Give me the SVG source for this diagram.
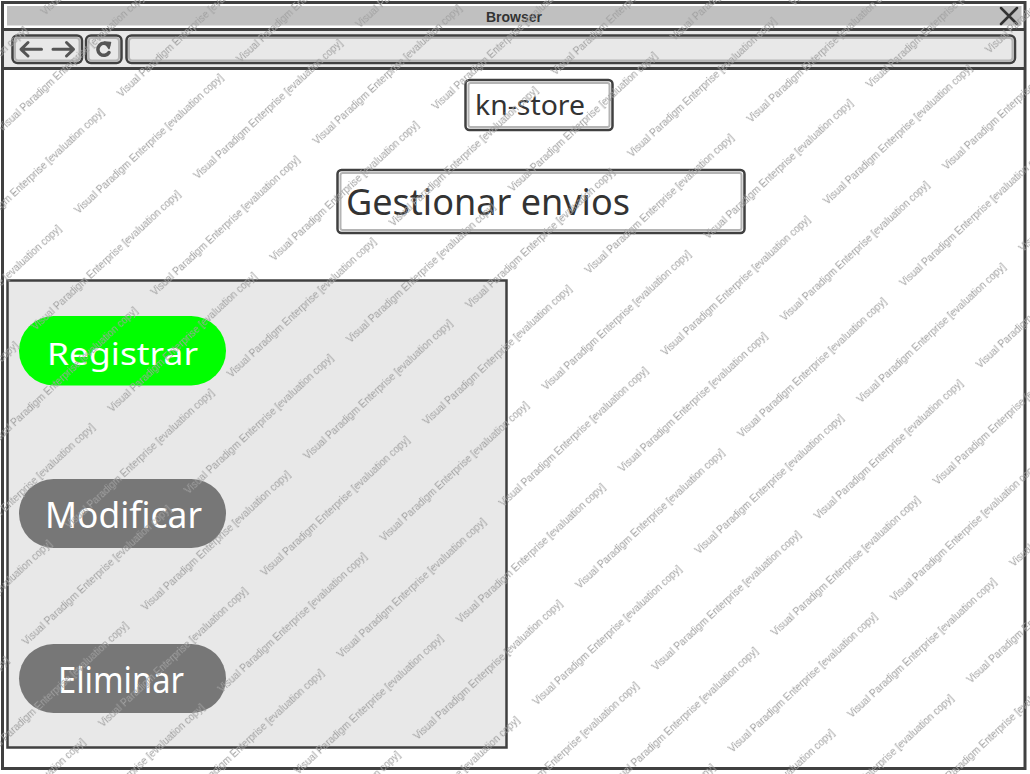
<svg xmlns="http://www.w3.org/2000/svg" width="1030" height="774" viewBox="0 0 1030 774">
  <style>
    .frame { fill: none; stroke: #404040; stroke-width: 3; }
    .dark { fill: none; stroke: #404040; stroke-width: 2.5; }
    .inner { fill: none; stroke: #b4b4b4; stroke-width: 2; }
    .icon { fill: none; stroke: #555555; stroke-width: 3; stroke-linecap: round; stroke-linejoin: round; }
    .title { font-family: "Liberation Sans", Arial, sans-serif; font-weight: bold; font-size: 14px; fill: #333333; }
    .label { font-family: "Comic Sans MS", "Noto Sans", "DejaVu Sans", sans-serif; fill: #333333; }
    .btntext { font-family: "Comic Sans MS", "Noto Sans", "DejaVu Sans", sans-serif; fill: #ffffff; }
    .wm { font-family: "Liberation Sans", Arial, sans-serif; font-size: 10px; fill: #a0a0a0; }
  </style>
  <defs>
    <pattern id="wmPattern" patternUnits="userSpaceOnUse" width="221.6" height="112" patternTransform="translate(728.1 423.4) rotate(-43)">
      <text class="wm" x="0" y="20">Visual Paradigm Enterprise [evaluation copy]</text>
      <text class="wm" x="110.8" y="76">Visual Paradigm Enterprise [evaluation copy]</text>
      <text class="wm" x="-110.8" y="76">Visual Paradigm Enterprise [evaluation copy]</text>
    </pattern>
  </defs>

  <rect x="0" y="0" width="1030" height="774" fill="#ffffff"/>

  <g id="browser">
    <rect x="2.5" y="2.5" width="1022.5" height="766" fill="#ffffff" class="frame"/>
    <rect x="7" y="6" width="1014.5" height="19.5" fill="#c0c0c0"/>
    <text class="title" x="514" y="21.5" text-anchor="middle">Browser</text>
    <path d="M1001 8 L1017 24 M1017 8 L1001 24" fill="none" stroke="#333333" stroke-width="2.5" stroke-linecap="round"/>
    <rect x="4" y="31" width="1019.5" height="36" fill="#e8e8e8"/>
    <line x1="2.5" y1="29.5" x2="1025" y2="29.5" class="frame"/>
    <line x1="2.5" y1="68.5" x2="1025" y2="68.5" class="frame"/>
    <g id="nav-buttons">
      <rect x="12.5" y="35.5" width="69.5" height="27.5" rx="5" fill="#e8e8e8" class="dark"/>
      <rect x="15" y="38" width="64.5" height="22.5" rx="3" class="inner" stroke-width="1.2"/>
      <path d="M41.5 49.3 H21 M28 42.5 L21 49.3 L28 56" class="icon"/>
      <path d="M53 49.3 H73.5 M66.5 42.5 L73.5 49.3 L66.5 56" class="icon"/>
    </g>
    <g id="refresh-button">
      <rect x="86" y="35.5" width="35.5" height="27.5" rx="5" fill="#e8e8e8" class="dark"/>
      <rect x="88.5" y="38" width="30.5" height="22.5" rx="3" class="inner" stroke-width="1.2"/>
      <path d="M108.5 45.5 A6 6 0 1 0 109 52.5" fill="none" stroke="#555555" stroke-width="3.5" stroke-linecap="round"/>
      <path d="M104.5 42 L110.5 42.5 L109 48.5 Z" fill="#555555" stroke="#555555" stroke-width="1.5" stroke-linejoin="round"/>
    </g>
    <g id="address-bar">
      <rect x="126.5" y="35.5" width="888.5" height="27.5" rx="5" fill="#ffffff" class="dark"/>
      <rect x="129" y="38" width="883.5" height="22.5" rx="3" class="inner" stroke-width="1.5"/>
    </g>
  </g>

  <g id="kn-store">
    <rect x="465.5" y="80" width="147" height="50" rx="4" fill="#ffffff" class="dark"/>
    <rect x="468.5" y="83" width="141" height="44" rx="2" class="inner" stroke-width="1.5"/>
    <text class="label" x="475" y="115" font-size="27" textLength="110" lengthAdjust="spacingAndGlyphs">kn-store</text>
  </g>

  <g id="gestionar-envios">
    <rect x="337.5" y="170" width="407" height="63" rx="4" fill="#ffffff" class="dark"/>
    <rect x="340.5" y="173" width="401" height="57" rx="2" class="inner" stroke-width="1.5"/>
    <text class="label" x="346" y="215" font-size="36" textLength="284" lengthAdjust="spacingAndGlyphs">Gestionar envios</text>
  </g>

  <g id="panel">
    <rect x="7.5" y="280.5" width="499" height="467" fill="#e8e8e8" stroke="#404040" stroke-width="2.5"/>
  </g>

  <g id="btn-registrar">
    <rect x="19" y="316" width="207" height="69.5" rx="34.75" fill="#00ff00"/>
    <text class="btntext" x="122.5" y="364.5" font-size="31" text-anchor="middle" textLength="151" lengthAdjust="spacingAndGlyphs">Registrar</text>
  </g>

  <g id="btn-modificar">
    <rect x="19" y="479" width="207" height="69" rx="34.5" fill="#777777"/>
    <text class="btntext" x="123.5" y="528" font-size="36" text-anchor="middle" textLength="157" lengthAdjust="spacingAndGlyphs">Modificar</text>
  </g>

  <g id="btn-eliminar">
    <rect x="19" y="644" width="207" height="69" rx="34.5" fill="#777777"/>
    <text class="btntext" x="121" y="693" font-size="36" text-anchor="middle" textLength="126" lengthAdjust="spacingAndGlyphs">Eliminar</text>
  </g>

  <g id="connectors"></g>

  <g id="watermark">
    <rect x="0" y="0" width="1030" height="774" fill="url(#wmPattern)"/>
  </g>
</svg>
